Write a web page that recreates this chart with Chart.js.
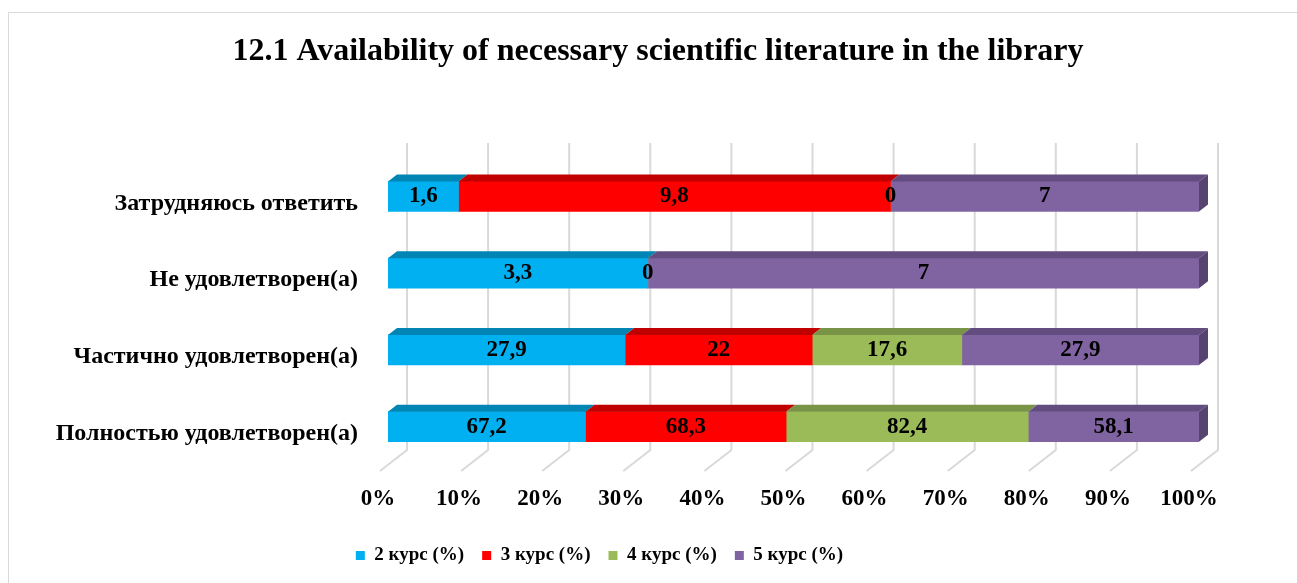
<!DOCTYPE html>
<html>
<head>
<meta charset="utf-8">
<script src="https://cdn.jsdelivr.net/npm/chart.js"></script>
<style>
  body { margin: 0; background: #fff; }
  #wrap { width: 1297px; height: 583px; position: relative; }
</style>
</head>
<body>
<div id="wrap"><canvas id="myChart" width="1297" height="583"></canvas></div>
<script>
// answers (top to bottom as shown)
var categories = ['Затрудняюсь ответить', 'Не удовлетворен(а)', 'Частично удовлетворен(а)', 'Полностью удовлетворен(а)'];
var seriesNames = ['2 курс (%)', '3 курс (%)', '4 курс (%)', '5 курс (%)'];
var kurs2 = [1.6, 3.3, 27.9, 67.2];
var kurs3 = [9.8, null, 22, 68.3];
var kurs4 = [0, 0, 17.6, 82.4];
var kurs5 = [7, 7, 27.9, 58.1];
var xTicks = [0, 10, 20, 30, 40, 50, 60, 70, 80, 90, 100];
var titleText = '12.1 Availability of necessary scientific literature in the library';

var colors = ['#00B0F0', '#FF0000', '#9BBB59', '#8064A2'];
var topColors = ['#0085B5', '#C00000', '#7A9447', '#624C80'];
var sideColor = '#57436F';
var serif = "'Liberation Serif', 'Times New Roman', serif";

// 100% stacked: turn raw values into shares of each row
var raw = [kurs2, kurs3, kurs4, kurs5];
var totals = categories.map(function (c, i) {
  return raw.reduce(function (s, arr) { return s + (arr[i] || 0); }, 0);
});
var datasets = raw.map(function (arr, k) {
  return {
    label: seriesNames[k],
    data: arr.map(function (v, i) { return v === null ? null : v / totals[i] * 100; }),
    rawValues: arr,
    backgroundColor: colors[k],
    borderWidth: 0,
    barThickness: 30
  };
});

var DX = 9, DY = 7;

// outer frame + title (title is centred on the whole chart box, not the plot)
var frame = {
  id: 'frame',
  beforeDraw: function (chart) {
    var ctx = chart.ctx;
    ctx.save();
    ctx.strokeStyle = '#d9d9d9';
    ctx.lineWidth = 1;
    ctx.strokeRect(8.5, 12.5, 1300, 600);
    ctx.font = 'bold 32px ' + serif;
    ctx.fillStyle = '#000';
    ctx.textAlign = 'center';
    ctx.textBaseline = 'middle';
    ctx.fillText(titleText, 658, 52);
    ctx.restore();
  }
};

var wall = {
  id: 'wall',
  beforeDatasetsDraw: function (chart) {
    var ctx = chart.ctx, xs = chart.scales.x, area = chart.chartArea;
    ctx.save();
    ctx.strokeStyle = '#d9d9d9';
    ctx.lineWidth = 2;
    xTicks.forEach(function (t) {
      var x = xs.getPixelForValue(t);
      ctx.beginPath();
      ctx.moveTo(x + 19, area.top - 15);
      ctx.lineTo(x + 19, area.bottom - 15);
      ctx.lineTo(x - 8, area.bottom + 6);
      ctx.stroke();
    });
    ctx.restore();
  }
};

var faces = {
  id: 'faces',
  afterDatasetsDraw: function (chart) {
    var ctx = chart.ctx;
    ctx.save();
    chart.data.datasets.forEach(function (ds, k) {
      var meta = chart.getDatasetMeta(k);
      meta.data.forEach(function (bar, i) {
        if (ds.data[i] === null) return;
        var p = bar.getProps(['x', 'y', 'base', 'height'], true);
        var x0 = Math.min(p.base, p.x), x1 = Math.max(p.base, p.x);
        var top = p.y - p.height / 2, bottom = p.y + p.height / 2;
        if (x1 - x0 > 0) {
          ctx.fillStyle = topColors[k];
          ctx.beginPath();
          ctx.moveTo(x0, top);
          ctx.lineTo(x1, top);
          ctx.lineTo(x1 + DX, top - DY);
          ctx.lineTo(x0 + DX, top - DY);
          ctx.closePath();
          ctx.fill();
        }
        if (k === chart.data.datasets.length - 1) {
          ctx.fillStyle = sideColor;
          ctx.beginPath();
          ctx.moveTo(x1, top);
          ctx.lineTo(x1 + DX, top - DY);
          ctx.lineTo(x1 + DX, bottom - DY);
          ctx.lineTo(x1, bottom);
          ctx.closePath();
          ctx.fill();
        }
      });
    });
    ctx.restore();
  }
};

var valueLabels = {
  id: 'valueLabels',
  afterDatasetsDraw: function (chart) {
    var ctx = chart.ctx;
    ctx.save();
    ctx.font = 'bold 23px ' + serif;
    ctx.fillStyle = '#000';
    ctx.textAlign = 'center';
    ctx.textBaseline = 'middle';
    chart.data.datasets.forEach(function (ds, k) {
      var meta = chart.getDatasetMeta(k);
      meta.data.forEach(function (bar, i) {
        var v = ds.rawValues[i];
        if (v === null) return;
        var p = bar.getProps(['x', 'y', 'base'], true);
        ctx.fillText(String(v).replace('.', ','), (p.x + p.base) / 2, p.y);
      });
    });
    ctx.restore();
  }
};

var ctx = document.getElementById('myChart').getContext('2d');
var myChart = new Chart(ctx, {
  type: 'bar',
  data: { labels: categories, datasets: datasets },
  options: {
    indexAxis: 'y',
    responsive: false,
    animation: false,
    layout: { padding: { left: 0, right: 98, top: 158, bottom: 8 } },
    scales: {
      x: {
        stacked: true,
        min: 0,
        max: 100,
        afterBuildTicks: function (scale) { scale.ticks = xTicks.map(function (v) { return { value: v }; }); },
        afterFit: function (scale) { scale.height = 63; },
        grid: { display: false, drawTicks: false },
        border: { display: false },
        ticks: {
          padding: 20,
          labelOffset: -10,
          color: '#000',
          font: { family: serif, size: 23, weight: 'bold' },
          callback: function (v) { return v + '%'; }
        }
      },
      y: {
        stacked: true,
        afterFit: function (scale) { scale.width = 388; },
        grid: { display: false, drawTicks: false },
        border: { display: false },
        ticks: {
          padding: 30,
          labelOffset: 7,
          color: '#000',
          font: { family: serif, size: 24, weight: 'bold' }
        }
      }
    },
    plugins: {
      title: { display: false },
      legend: {
        position: 'bottom',
        labels: {
          boxWidth: 9,
          boxHeight: 9,
          padding: 18,
          color: '#000',
          font: { family: serif, size: 19, weight: 'bold' }
        }
      },
      tooltip: { enabled: false }
    }
  },
  plugins: [frame, wall, faces, valueLabels]
});
</script>
</body>
</html>
